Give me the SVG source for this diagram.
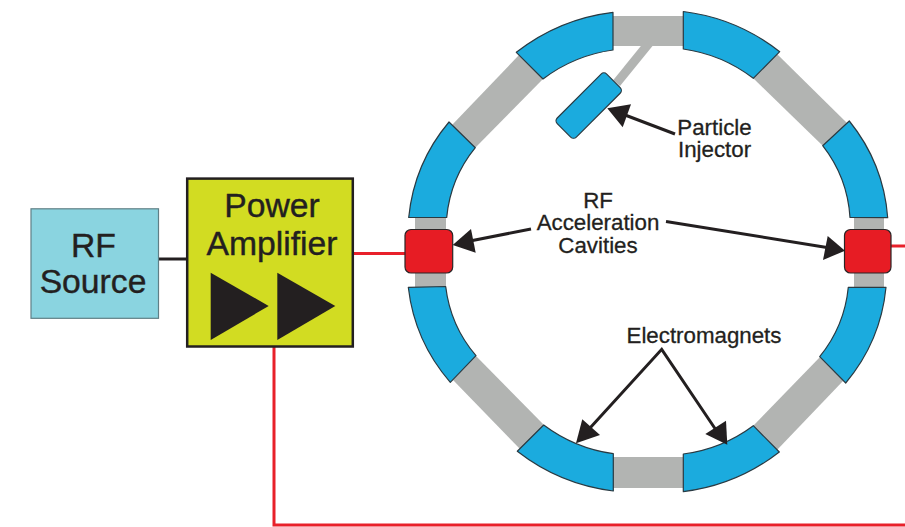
<svg xmlns="http://www.w3.org/2000/svg" width="905" height="527" viewBox="0 0 905 527">
<style>
.t{font-family:"Liberation Sans",Arial,sans-serif;fill:#231f20;stroke:#231f20;text-anchor:middle}
.l{font-size:22.300px;stroke-width:.3}
.b{font-size:33.700px;stroke-width:.4}
.m{fill:#1babde;stroke:#2a3a42;stroke-width:1.2;stroke-linejoin:round}
.g{fill:#b2b4b2}
.r{fill:#e71c24;stroke:#2a2526;stroke-width:1.2}
.w{fill:none;stroke:#231f20;stroke-width:3}
.h{fill:#231f20}
.red{fill:none;stroke:#e8202a;stroke-width:3}
</style>
<rect width="905" height="527" fill="#fff"/>
<g id="beamline">
<rect class="g" x="613" y="16" width="71" height="30"/>
<rect class="g" x="613" y="457" width="71" height="31"/>
<rect class="g" x="415" y="210" width="31" height="80"/>
<rect class="g" x="854" y="210" width="30" height="80"/>
<polygon class="g" points="519,55 543,79 475,148 452,125"/>
<polygon class="g" points="777,54 753,78 823,146 847,123"/>
<polygon class="g" points="476,356 453,380 520,449 544,425"/>
<polygon class="g" points="820,357 843,381 777,450 753,426"/>
<polygon class="g" points="641.700,45 653.300,45 620,86 613.300,80"/>
</g>
<g id="magnets">
<path class="m" d="M613 12.300A195 195 0 0 0 516.300 52.300L543 79A150 150 0 0 1 613 50Z"/>
<path class="m" d="M683.300 11.500A195 195 0 0 1 779.700 51.700L753.300 78.300A150 150 0 0 0 683.300 49Z"/>
<path class="m" d="M449 122A175 175 0 0 0 408.700 217.500L446.700 217.500A130 130 0 0 1 475.300 147.700Z"/>
<path class="m" d="M849.300 121A175 175 0 0 1 887.700 217.700L850 217.500A130 130 0 0 0 822.700 145.700Z"/>
<path class="m" d="M408.300 287.300L445.700 286.500A130 130 0 0 0 476 355.700L450.300 382.300A175 175 0 0 1 408.300 287.300Z"/>
<path class="m" d="M886 287.300L848.300 287.300A130 130 0 0 1 819.700 356.700L845.700 383A175 175 0 0 0 886 287.300Z"/>
<path class="m" d="M543.700 425A150 150 0 0 0 613.300 453.700L613.300 491A195 195 0 0 1 517.300 451.300Z"/>
<path class="m" d="M683.300 454A150 150 0 0 0 753.300 425.700L779.300 452A195 195 0 0 1 683.300 491.700Z"/>
</g>
<g id="connectors">
<path d="M158 259H187" fill="none" stroke="#231f20" stroke-width="3"/>
<path class="red" d="M354 253.500H405"/>
<path class="red" d="M891 246H905"/>
<path class="red" d="M274 347V525H905"/>
</g>
<g id="rf-source">
<rect x="31" y="208.800" width="127.500" height="109.500" fill="#8ad4e0" stroke="#5f7f86" stroke-width="1.200"/>
<text class="t b"><tspan x="93.500" y="257">RF</tspan><tspan x="93" y="293">Source</tspan></text>
</g>
<g id="power-amplifier">
<rect x="187.200" y="178.600" width="165.600" height="167.900" fill="#d2dc22" stroke="#231f20" stroke-width="2.500"/>
<text class="t b"><tspan x="272" y="217">Power</tspan><tspan x="272" y="255">Amplifier</tspan></text>
<polygon class="h" points="210.700,272.700 268.700,306 210.700,340"/>
<polygon class="h" points="277.300,272.700 335.300,306 277.300,340"/>
</g>
<g id="particle-injector">
<rect x="-35" y="-13.500" width="70" height="27" rx="4" transform="translate(588.700 105.600) rotate(-45)" class="m"/>
</g>
<g id="cavity-left"><rect class="r" x="405" y="229.500" width="47.700" height="43.500" rx="6"/></g>
<g id="cavity-right"><rect class="r" x="844.500" y="229.500" width="46.500" height="43.500" rx="6"/></g>
<g id="labels">
<path class="w" d="M675 134L625 115"/>
<polygon class="h" points="607.300,108.300 631,104.300 622.700,127.300"/>
<text class="t l"><tspan x="714.500" y="135">Particle</tspan><tspan x="714.500" y="157">Injector</tspan></text>
<text class="t l"><tspan x="598" y="208">RF</tspan><tspan x="598" y="230">Acceleration</tspan><tspan x="598" y="252.500">Cavities</tspan></text>
<path class="w" d="M531 229L470 241"/>
<polygon class="h" points="452.700,245 471,229 475.700,252.700"/>
<path class="w" d="M666 221.500L830 248"/>
<polygon class="h" points="845,250.700 827.700,236 823,260"/>
<text class="t l" x="704" y="342.500">Electromagnets</text>
<path class="w" d="M590 428L661.700 349.300L716 430"/>
<polygon class="h" points="576,443.300 582.300,419.300 600,435"/>
<polygon class="h" points="727.300,444.700 726,420.700 705.300,434"/>
</g>
</svg>
